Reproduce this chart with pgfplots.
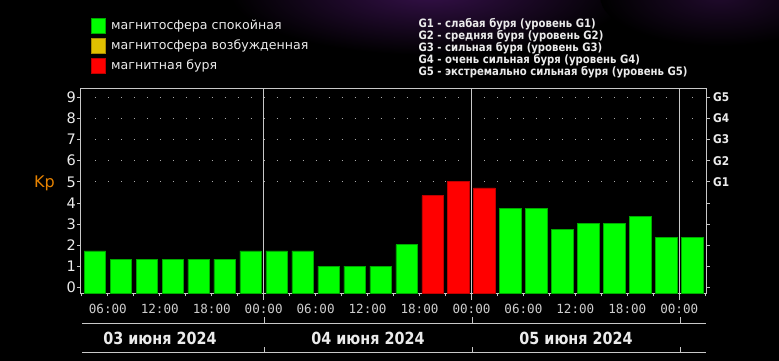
\documentclass[border=0pt]{standalone}
\usepackage{fontspec}
\setmainfont{DejaVu Sans}
\usepackage{pgfplots}
\usepackage{pgfplotstable}
\pgfplotsset{compat=1.18}
\newfontfamily\legf{DejaVu Sans}
\newfontfamily\gf[FakeStretch=0.88]{DejaVu Sans}
\newfontfamily\monof{DejaVu Sans Mono}
\newfontfamily\datef[FakeStretch=0.86]{DejaVu Sans}
\definecolor{kgreen}{RGB}{0,255,0}
\definecolor{kgreenedge}{RGB}{0,170,0}
\definecolor{kyellow}{RGB}{224,192,0}
\definecolor{kyellowedge}{RGB}{170,140,0}
\definecolor{kred}{RGB}{255,0,0}
\definecolor{krededge}{RGB}{190,0,0}
\definecolor{korange}{RGB}{230,130,0}
\definecolor{axgray}{RGB}{200,200,200}
\definecolor{txt}{RGB}{235,235,235}
\definecolor{ticktxt}{RGB}{205,205,205}
\definecolor{dotc}{RGB}{170,170,170}

% Kp values; the axis' zero sits 0.27 units above its bottom edge
\pgfplotstableread{
x kp
4.5 1.74
7.5 1.35
10.5 1.35
13.5 1.35
16.5 1.35
19.5 1.35
22.5 1.74
25.5 1.74
28.5 1.74
31.5 1.02
34.5 1.02
37.5 1.02
40.5 2.03
52.5 3.73
55.5 3.73
58.5 2.74
61.5 3.02
64.5 3.02
67.5 3.35
70.5 2.36
73.5 2.36
}\greendata
\pgfplotstableread{
x kp
43.5 4.35
46.5 5.01
49.5 4.72
}\reddata

\begin{document}
\begin{tikzpicture}[x=1pt,y=1pt]
\useasboundingbox (0,0) rectangle (779,361);
\fill[black] (0,0) rectangle (779,361);
\begin{scope}
\clip (0,0) rectangle (779,361);
\shade[inner color={rgb,255:red,52;green,16;blue,72}, outer color=black] (430,368) ellipse (200 and 62);
\shade[inner color={rgb,255:red,32;green,10;blue,44}, outer color=black] (720,365) ellipse (120 and 50);
\end{scope}

\begin{axis}[
  at={(80.3pt,67.7pt)}, anchor=south west,
  scale only axis, width=626.4pt, height=204.3pt,
  xmin=2.82, xmax=75.17, ymin=0, ymax=9.66,
  axis line style={axgray, line width=1pt},
  tick align=outside, xtick pos=left, ytick pos=both,
  major tick length=3pt, minor tick length=3pt,
  tick style={axgray, line width=0.8pt},
  every minor tick/.style={axgray, line width=0.8pt},
  xtick={6,12,...,72},
  xticklabels={06:00,12:00,18:00,00:00,06:00,12:00,18:00,00:00,06:00,12:00,18:00,00:00},
  minor xtick={3,9,...,75},
  ytick={0.27,1.27,2.27,3.27,4.27,5.27,6.27,7.27,8.27,9.27},
  yticklabels={0,1,2,3,4,5,6,7,8,9},
  xticklabel style={font=\monof\fontsize{12.6}{12.6}\selectfont, text=ticktxt, anchor=center, yshift=-12.7pt},
  yticklabel style={font=\legf\fontsize{14.5}{14.5}\selectfont, text=txt, anchor=east, inner sep=0pt, xshift=-1.3pt},
  clip=false,
]
\pgfplotsinvokeforeach{5.27,6.27,7.27,8.27,9.27}{
  \addplot[dotc, line width=1pt, dash pattern=on 1pt off 11.987pt, forget plot] coordinates {(4.5,#1) (73.6,#1)};
}
\addplot[ybar, bar width=21.5pt, bar shift=0pt, fill=kgreen, draw=kgreenedge, line width=0.5pt, y filter/.expression={y+0.27}] table[x=x,y=kp] {\greendata};
\addplot[ybar, bar width=21.5pt, bar shift=0pt, fill=kred, draw=krededge, line width=0.5pt, y filter/.expression={y+0.27}] table[x=x,y=kp] {\reddata};
\pgfplotsinvokeforeach{24,48,72}{
  \draw[axgray, line width=1pt] (axis cs:#1,9.66) -- (axis cs:#1,0) -- ++(0pt,-6.7pt);
}
\node[anchor=west, inner sep=0pt, font=\gf\bfseries\fontsize{12}{12}\selectfont, text=txt, xshift=6.3pt] at (axis cs:75.17,5.27) {G1};
\node[anchor=west, inner sep=0pt, font=\gf\bfseries\fontsize{12}{12}\selectfont, text=txt, xshift=6.3pt] at (axis cs:75.17,6.27) {G2};
\node[anchor=west, inner sep=0pt, font=\gf\bfseries\fontsize{12}{12}\selectfont, text=txt, xshift=6.3pt] at (axis cs:75.17,7.27) {G3};
\node[anchor=west, inner sep=0pt, font=\gf\bfseries\fontsize{12}{12}\selectfont, text=txt, xshift=6.3pt] at (axis cs:75.17,8.27) {G4};
\node[anchor=west, inner sep=0pt, font=\gf\bfseries\fontsize{12}{12}\selectfont, text=txt, xshift=6.3pt] at (axis cs:75.17,9.27) {G5};
\end{axis}

% Kp label
\node[text=korange, font=\legf\fontsize{16}{16}\selectfont, inner sep=0pt] at (44.5,178) {Kp};

% legend left
\filldraw[fill=kgreen, draw=kgreenedge, line width=0.7pt] (91,328) rectangle (105,343);
\filldraw[fill=kyellow, draw=kyellowedge, line width=0.7pt] (91,308) rectangle (105,323);
\filldraw[fill=kred, draw=krededge, line width=0.7pt] (91,288) rectangle (105,303);
\node[anchor=base west, inner sep=0pt, font=\legf\fontsize{12.6}{12.6}\selectfont, text=txt] at (111,331.5) {магнитосфера спокойная};
\node[anchor=base west, inner sep=0pt, font=\legf\fontsize{12.6}{12.6}\selectfont, text=txt] at (111,311.7) {магнитосфера возбужденная};
\node[anchor=base west, inner sep=0pt, font=\legf\fontsize{12.6}{12.6}\selectfont, text=txt] at (111,291.7) {магнитная буря};

% legend right
\node[anchor=base west, inner sep=0pt, font=\gf\bfseries\fontsize{11.5}{11.5}\selectfont, text=txt] at (418.3,333.7) {G1 - слабая буря (уровень G1)};
\node[anchor=base west, inner sep=0pt, font=\gf\bfseries\fontsize{11.5}{11.5}\selectfont, text=txt] at (418.3,321.5) {G2 - средняя буря (уровень G2)};
\node[anchor=base west, inner sep=0pt, font=\gf\bfseries\fontsize{11.5}{11.5}\selectfont, text=txt] at (418.3,309.3) {G3 - сильная буря (уровень G3)};
\node[anchor=base west, inner sep=0pt, font=\gf\bfseries\fontsize{11.5}{11.5}\selectfont, text=txt] at (418.3,297.1) {G4 - очень сильная буря (уровень G4)};
\node[anchor=base west, inner sep=0pt, font=\gf\bfseries\fontsize{11.5}{11.5}\selectfont, text=txt] at (418.3,285) {G5 - экстремально сильная буря (уровень G5)};

% date band
\draw[axgray, line width=1pt] (82,37) -- (705.5,37);
\draw[axgray, line width=1pt] (82,8) -- (705.5,8);
\foreach \xx in {264,472,680} {
  \draw[axgray, line width=1pt] (\xx,37) -- (\xx,44);
  \draw[axgray, line width=1pt] (\xx,8) -- (\xx,14);
}
\node[font=\datef\bfseries\fontsize{16.7}{16.7}\selectfont, text=txt] at (160,22.7) {03 июня 2024};
\node[font=\datef\bfseries\fontsize{16.7}{16.7}\selectfont, text=txt] at (368,22.7) {04 июня 2024};
\node[font=\datef\bfseries\fontsize{16.7}{16.7}\selectfont, text=txt] at (576,22.7) {05 июня 2024};
\end{tikzpicture}
\end{document}
